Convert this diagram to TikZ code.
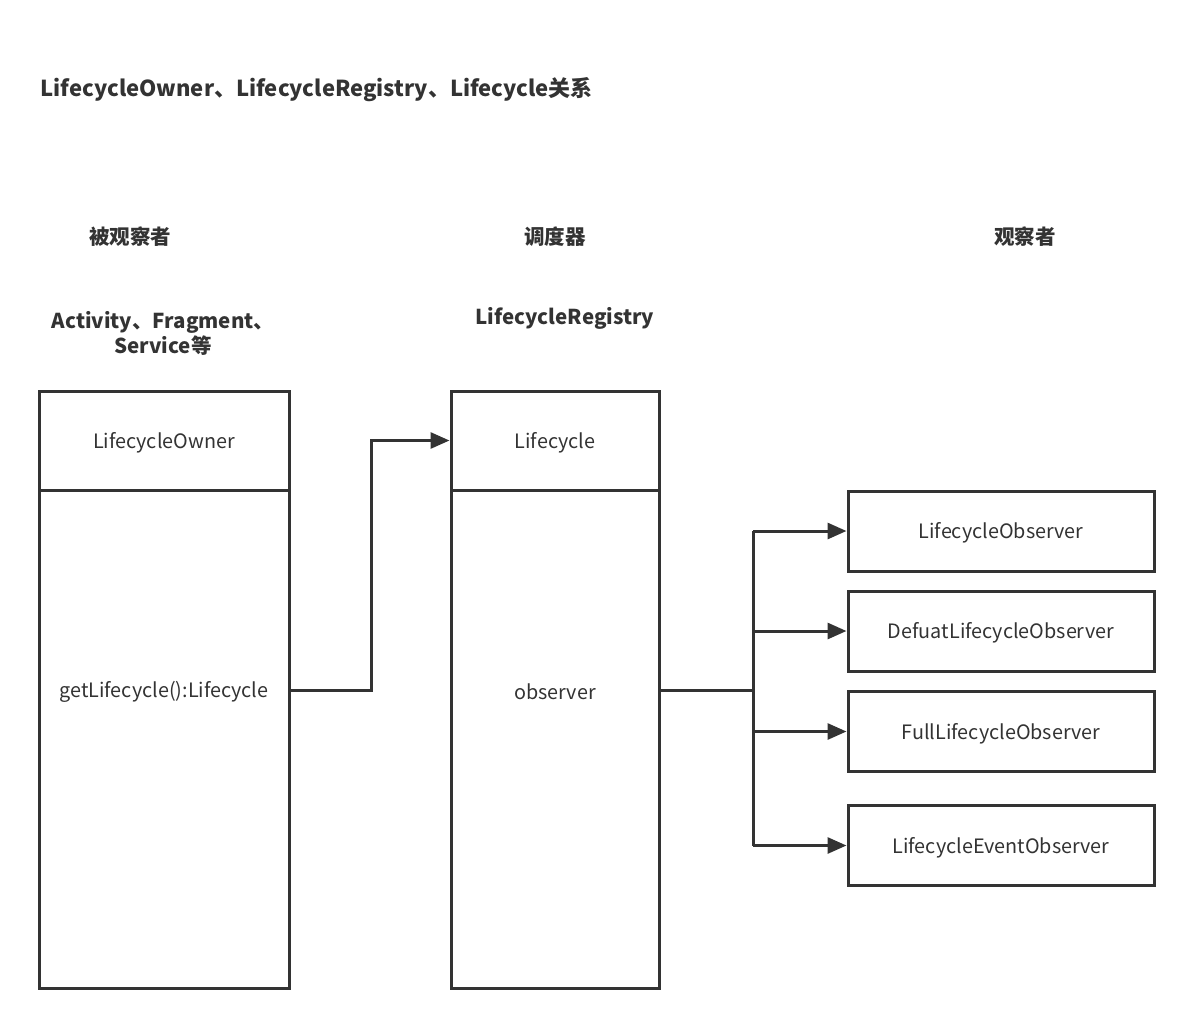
\documentclass[tikz,border=0pt]{standalone}
\usepackage{fontspec}
\setmainfont{Noto Sans CJK SC}
\usepackage{tikz}
\usetikzlibrary{arrows.meta}
\definecolor{ink}{HTML}{333333}

\begin{document}
\begin{tikzpicture}[x=1pt,y=-1pt,
  every node/.style={text=ink,font=\fontsize{19.8}{24}\selectfont},
  box/.style={draw=ink,line width=3pt,rectangle,inner sep=0pt},
  head/.style={font=\fontsize{20.5}{25}\bfseries\selectfont,align=center},
  conn/.style={draw=ink,line width=3pt},
  arr/.style={conn,-{Triangle[length=19pt,width=16pt]}}]
\useasboundingbox(0,0)rectangle(1191,1026);
% titles
\node[head,anchor=west,font=\fontsize{22}{26}\bfseries\selectfont](title)at(37,90){LifecycleOwner、LifecycleRegistry、Lifecycle关系};
\node[head](t1)at(130,237){被观察者};
\node[head](t2)at(555,237){调度器};
\node[head](t3)at(1025,237){观察者};
\node[head](owners)at(163,333){Activity、Fragment、\\Service等};
\node[head](regname)at(565,318){LifecycleRegistry};
% owner
\node[box,minimum width=250pt,minimum height=99pt](owner)at(164,440.5){};
\node(ownername)at(164,442.5){LifecycleOwner};
\node[box,minimum width=250pt,minimum height=498pt](ownerbody)at(164,739){};
\node(getlc)at(164,692){getLifecycle():Lifecycle};
% registry
\node[box,minimum width=208pt,minimum height=99pt](lc)at(555,440.5){};
\node(lcname)at(555,442.5){Lifecycle};
\node[box,minimum width=208pt,minimum height=498pt](regbody)at(555,739){};
\node(obs)at(555,692){observer};
% observers
\node[box,minimum width=306pt,minimum height=80pt](ob1)at(1001,531){};
\node at(1001,533){LifecycleObserver};
\node[box,minimum width=306pt,minimum height=80pt](ob2)at(1001,631){};
\node at(1001,633){DefuatLifecycleObserver};
\node[box,minimum width=306pt,minimum height=80pt](ob3)at(1001,731.5){};
\node at(1001,733.5){FullLifecycleObserver};
\node[box,minimum width=306pt,minimum height=80pt](ob4)at(1001,845.5){};
\node at(1001,847.5){LifecycleEventObserver};
% links
\draw[arr](ownerbody.east |- 0,690)--++(81,0)|-(lc.west);
\coordinate(fork)at(753,690);
\draw[conn](regbody.east |- fork)--(fork);
\draw[conn](fork |- ob1.west)--(fork |- ob4.west);
\foreach \o in {ob1,ob2,ob3,ob4}
  \draw[arr](fork |- \o.west)--(\o.west);
\end{tikzpicture}
\end{document}
